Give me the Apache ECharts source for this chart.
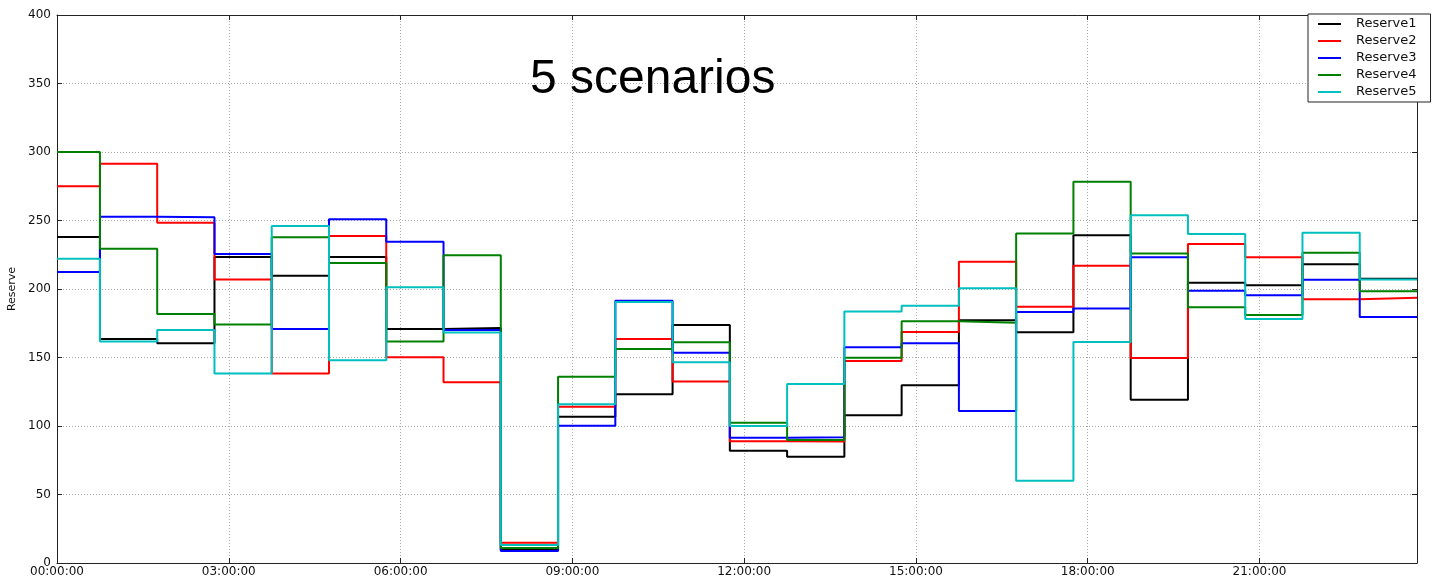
<!DOCTYPE html>
<html>
<head>
<meta charset="utf-8">
<script src="https://cdn.jsdelivr.net/npm/echarts@6/dist/echarts.min.js"></script>
<style>
html,body{margin:0;padding:0;background:#fff;}
#chart{width:1437px;height:578px;}
</style>
</head>
<body>
<div id="chart"></div>
<script>
// Hourly values (hour 0 .. 23), drawn as steps
const seriesNames = ['Reserve1', 'Reserve2', 'Reserve3', 'Reserve4', 'Reserve5'];
const reserve1 = [238, 163.5, 160.4, 223.4, 209.7, 223.4, 170.8, 171.5, 9.7, 106.8, 123.1, 173.7, 82, 77.6, 107.8, 129.7, 177.1, 168.4, 239.2, 119.2, 204.6, 202.7, 218, 207.5];
const reserve2 = [275, 291.5, 248.4, 207, 138.4, 238.7, 150.2, 131.9, 14.8, 114.1, 163.5, 132.4, 88.8, 88.6, 147.4, 168.6, 219.9, 187.1, 217, 149.6, 232.8, 223.1, 192.5, 193.6];
const reserve3 = [212.4, 252.8, 252.3, 225.5, 170.8, 250.9, 234.5, 170, 8.8, 100.2, 191.5, 153.5, 91.5, 91.7, 157.5, 160.4, 110.9, 183.2, 185.7, 223.1, 198.8, 195.4, 206.8, 179.6];
const reserve4 = [300, 229.4, 181.8, 174, 237.7, 219, 161.6, 224.6, 10.9, 136, 156.2, 161.1, 102.4, 89.8, 149.9, 176.4, 175.4, 240.6, 278.3, 226, 186.6, 181, 226.4, 198.3];
const reserve5 = [222, 161.6, 170, 138.4, 246, 148, 201.2, 168.2, 13.1, 115.8, 190.5, 146.5, 100, 130.7, 183.5, 187.7, 200.5, 60.1, 161.3, 253.8, 240.1, 178.1, 241, 207];
// Step change times in hours (each hourly value starts at these times), last = end of data
const stepStarts = [0, 0.75, 1.75, 2.75, 3.75, 4.75, 5.75, 6.75, 7.75, 8.75, 9.75, 10.75, 11.75, 12.75, 13.75, 14.75, 15.75, 16.75, 17.75, 18.75, 19.75, 20.75, 21.75, 22.75];
const endTime = 23.75;
const xTickLabels = ['00:00:00', '03:00:00', '06:00:00', '09:00:00', '12:00:00', '15:00:00', '18:00:00', '21:00:00'];
const yTicks = [0, 50, 100, 150, 200, 250, 300, 350, 400];
const colors = ['#000000', '#ff0000', '#0000ff', '#008000', '#00bfbf'];
const titleText = '5 scenarios';

const allValues = [reserve1, reserve2, reserve3, reserve4, reserve5];

function stepData(vals) {
  const d = vals.map((v, i) => [stepStarts[i], v]);
  d.push([endTime, vals[vals.length - 1]]);
  return d;
}

const chart = echarts.init(document.getElementById('chart'), null, {renderer: 'canvas'});
const frameColor = '#222';
const tickFont = {fontFamily: 'DejaVu Sans', fontSize: 12, color: '#111'};

const option = {
  animation: false,
  backgroundColor: '#fff',
  grid: {left: 57, right: 20, top: 15, bottom: 15, outerBoundsMode: 'none', containLabel: false},
  graphic: [{
    type: 'text', left: 530, top: 56, z: 100,
    style: {text: titleText, font: '48px "Liberation Sans", Arial, sans-serif', fill: '#000'}
  }],
  legend: {
    orient: 'vertical', left: 1308, top: 14,
    data: seriesNames,
    icon: 'rect', itemWidth: 23, itemHeight: 2, itemGap: 3,
    padding: [3, 14, 3, 10],
    borderColor: '#222', borderWidth: 1, backgroundColor: '#fff',
    textStyle: {fontFamily: 'DejaVu Sans', fontSize: 13, lineHeight: 14, color: '#111', padding: [0, 0, 0, 10]},
    z: 50
  },
  xAxis: [{
    type: 'value', min: 0, max: endTime, interval: 3, position: 'bottom',
    axisLine: {show: true, onZero: false, lineStyle: {color: frameColor, width: 1}},
    axisTick: {show: true, inside: true, length: 5, lineStyle: {color: frameColor}},
    axisLabel: Object.assign({margin: 3, showMaxLabel: false, formatter: v => xTickLabels[Math.round(v / 3)] || ''}, tickFont),
    splitLine: {show: true, lineStyle: {color: '#a8a8a8', type: [1, 2], width: 1}}
  }, {
    type: 'value', min: 0, max: endTime, interval: 3, position: 'top',
    axisLine: {show: true, onZero: false, lineStyle: {color: frameColor, width: 1}},
    axisTick: {show: true, inside: true, length: 5, lineStyle: {color: frameColor}},
    axisLabel: {show: false}, splitLine: {show: false}
  }],
  yAxis: [{
    type: 'value', min: 0, max: 400, interval: 50, position: 'left',
    name: 'Reserve', nameLocation: 'middle', nameGap: 32, nameRotate: 90,
    nameTextStyle: {fontFamily: 'DejaVu Sans', fontSize: 11, color: '#111'},
    axisLine: {show: true, onZero: false, lineStyle: {color: frameColor, width: 1}},
    axisTick: {show: true, inside: true, length: 5, lineStyle: {color: frameColor}},
    axisLabel: Object.assign({margin: 6, formatter: v => (yTicks.indexOf(v) >= 0 ? String(v) : '')}, tickFont),
    splitLine: {show: true, lineStyle: {color: '#a8a8a8', type: [1, 2], width: 1}}
  }, {
    type: 'value', min: 0, max: 400, interval: 50, position: 'right',
    axisLine: {show: true, onZero: false, lineStyle: {color: frameColor, width: 1}},
    axisTick: {show: true, inside: true, length: 5, lineStyle: {color: frameColor}},
    axisLabel: {show: false}, splitLine: {show: false}
  }],
  series: seriesNames.map((name, i) => ({
    name: name, type: 'line', step: 'end',
    xAxisIndex: 0, yAxisIndex: 0,
    data: stepData(allValues[i]),
    showSymbol: false, symbol: 'none',
    lineStyle: {color: colors[i], width: 2},
    itemStyle: {color: colors[i]},
    emphasis: {disabled: true}
  }))
};
chart.setOption(option);
</script>
</body>
</html>
